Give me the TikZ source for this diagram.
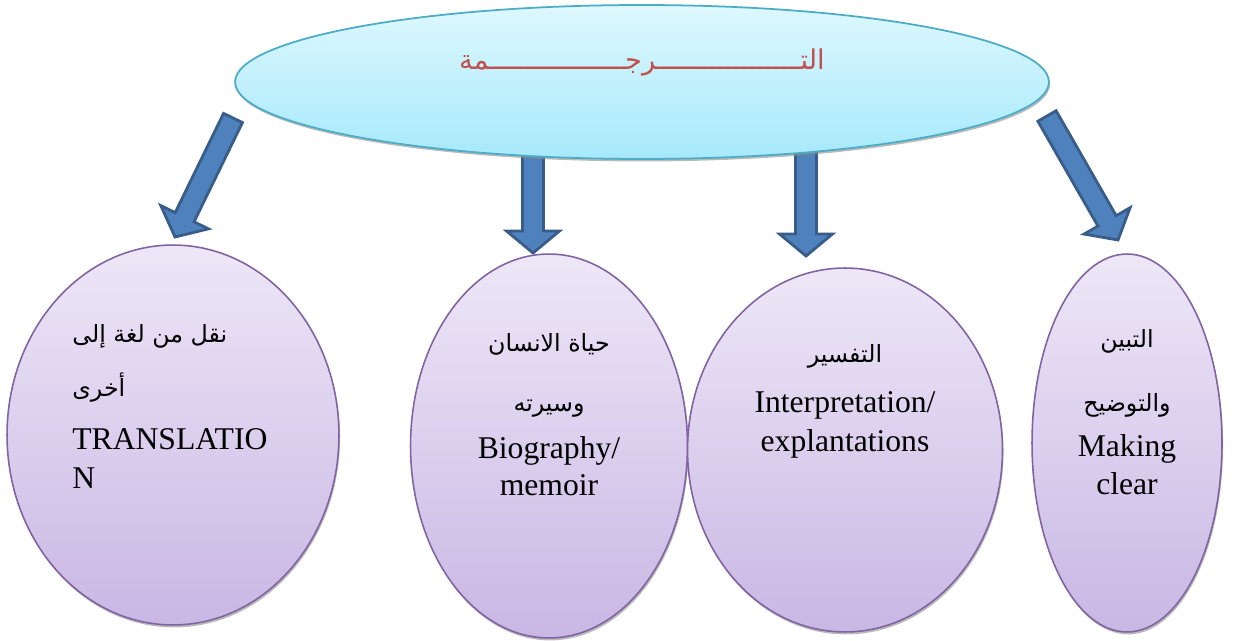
\documentclass[tikz,border=0pt]{standalone}
\usepackage{fontspec}
\setmainfont{Liberation Serif}
\newfontfamily\arabicfont[Script=Arabic]{DejaVu Sans}
\TeXXeTstate=1
\usepackage{tikz}
\usetikzlibrary{shapes.geometric,shadows,calc}

% block arrow from tail #1 to tip #2
\newcommand\blockarrow[2]{%
  \coordinate (#1base) at ($(#2)!0.44cm!(#1)$);
  \draw[blockarr] ($(#1)!0.21cm!90:(#2)$) -- ($(#1base)!0.21cm!90:(#2)$) -- ($(#1base)!0.53cm!90:(#2)$) -- (#2) -- ($(#1base)!0.53cm!-90:(#2)$) -- ($(#1base)!0.21cm!-90:(#2)$) -- ($(#1)!0.21cm!-90:(#2)$) -- cycle;
}

\begin{document}
\begin{tikzpicture}[x=0.02cm,y=-0.02cm,
  blockarr/.style={draw=arrLine,fill=arrFill,line width=1.6pt,line join=miter},
  topell/.style={ellipse,draw=topLine,line width=1pt,top color=topTop,bottom color=topBot,inner sep=0pt,
    drop shadow={shadow xshift=0.6pt,shadow yshift=-1.4pt,fill=black!45,opacity=0.6}},
  subell/.style={ellipse,draw=subLine,line width=0.9pt,top color=subTop,bottom color=subBot,inner sep=0pt,
    drop shadow={shadow xshift=0.6pt,shadow yshift=-1.4pt,fill=black!45,opacity=0.6}},
  entxt/.style={font=\fontsize{18}{22}\selectfont,inner sep=0pt},
  artxt/.style={font=\arabicfont\fontsize{13.5}{16}\selectfont,inner sep=0pt}]
\definecolor{arrFill}{RGB}{79,129,189}
\definecolor{arrLine}{RGB}{56,93,138}
\definecolor{topTop}{RGB}{222,248,254}
\definecolor{topBot}{RGB}{166,233,251}
\definecolor{topLine}{RGB}{75,172,198}
\definecolor{subTop}{RGB}{237,231,247}
\definecolor{subBot}{RGB}{201,183,228}
\definecolor{subLine}{RGB}{128,100,162}
\definecolor{titleRed}{RGB}{192,80,77}
\useasboundingbox (0,0) rectangle (1257,641);

% arrows
\coordinate (t1) at (233,118);  \coordinate (h1) at (175,237);
\coordinate (t2) at (533,150);  \coordinate (h2) at (533,253);
\coordinate (t3) at (806,150);  \coordinate (h3) at (806,256);
\coordinate (t4) at (1047,116); \coordinate (h4) at (1118,240);
\blockarrow{t1}{h1}
\blockarrow{t2}{h2}
\blockarrow{t3}{h3}
\blockarrow{t4}{h4}

% top ellipse
\node[topell,minimum width=16.28cm,minimum height=3.08cm] (tarjama) at (642,82) {};
\node[font=\arabicfont\fontsize{15.5}{18}\selectfont,text=titleRed,inner sep=0pt,anchor=base] (title) at (642,70)
  {\beginR التــــــــــــــــــرجـــــــــــــــــمة\endR};

% lower ellipses
\node[subell,minimum width=6.64cm,minimum height=7.6cm] (naql) at (173,435) {};
\node[subell,minimum width=5.54cm,minimum height=7.68cm] (sira) at (549,446) {};
\node[subell,minimum width=6.3cm,minimum height=7.28cm] (tafsir) at (845,450) {};
\node[subell,minimum width=3.8cm,minimum height=7.56cm] (tabyin) at (1127,443) {};

% texts
\node[artxt,anchor=base west] (naqlA) at (72,343) {\beginR نقل من لغة إلى\endR};
\node[artxt,anchor=base west] (naqlB) at (72,397) {\beginR أخرى\endR};
\node[entxt,anchor=base west] (naqlC) at (72,450) {TRANSLATIO};
\node[entxt,anchor=base west] (naqlD) at (72,488) {N};

\node[artxt,anchor=base] (siraA) at (549,352) {\beginR حياة الانسان\endR};
\node[artxt,anchor=base] (siraB) at (549,412) {\beginR وسيرته\endR};
\node[entxt,anchor=base] (siraC) at (549,459) {Biography/};
\node[entxt,anchor=base] (siraD) at (549,496) {memoir};

\node[artxt,anchor=base] (tafsirA) at (845,363) {\beginR التفسير\endR};
\node[entxt,anchor=base] (tafsirB) at (845,413) {Interpretation/};
\node[entxt,anchor=base] (tafsirC) at (845,452) {explantations};

\node[artxt,anchor=base] (tabyinA) at (1127,348) {\beginR التبين\endR};
\node[artxt,anchor=base] (tabyinB) at (1127,412) {\beginR والتوضيح\endR};
\node[entxt,anchor=base] (tabyinC) at (1127,457) {Making};
\node[entxt,anchor=base] (tabyinD) at (1127,495) {clear};
\end{tikzpicture}
\end{document}
